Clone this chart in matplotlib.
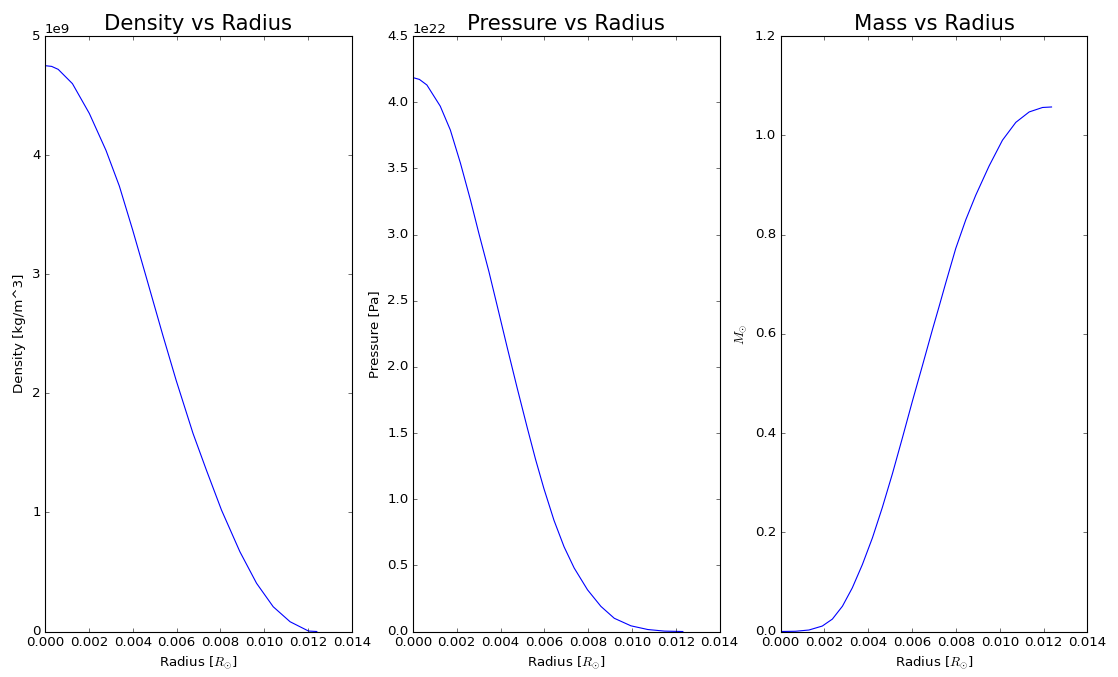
import numpy as np
import matplotlib
matplotlib.use("Agg")
import matplotlib.pyplot as plt

plt.style.use('classic')

# values (radius in solar radii)
r_dens = [0.0, 0.0003, 0.0006, 0.00125, 0.00202, 0.00278, 0.00339, 0.0040,
          0.00461, 0.00537, 0.00598, 0.00675, 0.00736, 0.00805, 0.00889,
          0.00965, 0.01041, 0.01118, 0.01202, 0.0124]
density = [4.751, 4.745, 4.72, 4.60, 4.35, 4.04, 3.74, 3.37,
           2.98, 2.49, 2.11, 1.664, 1.356, 1.02, 0.67,
           0.405, 0.208, 0.082, 0.004, 0.0]  # x 1e9 kg/m^3

r_pres = [0.0, 0.0003, 0.00064, 0.00125, 0.00171, 0.00217, 0.00263, 0.00301,
          0.00347, 0.00385, 0.0043, 0.00476, 0.00522, 0.0056, 0.00598,
          0.00644, 0.0069, 0.00736, 0.00797, 0.00858, 0.00919, 0.00995,
          0.01072, 0.01148, 0.01232]
pressure = [4.186, 4.172, 4.13, 3.97, 3.79, 3.54, 3.26, 3.01,
            2.72, 2.46, 2.15, 1.84, 1.54, 1.30, 1.08,
            0.84, 0.64, 0.48, 0.315, 0.19, 0.10, 0.043,
            0.015, 0.003, 0.0]  # x 1e22 Pa

r_mass = [0.0, 0.00068, 0.00129, 0.0019, 0.00236, 0.00282, 0.00327, 0.00373,
          0.00419, 0.00464, 0.0051, 0.00556, 0.00601, 0.00647, 0.00693,
          0.00723, 0.00753, 0.00799, 0.00845, 0.0089, 0.00951, 0.01012,
          0.01073, 0.01134, 0.01195, 0.01236]
mass = [0.0, 0.0005, 0.003, 0.011, 0.025, 0.051, 0.088, 0.135,
        0.189, 0.250, 0.318, 0.391, 0.464, 0.536, 0.609,
        0.655, 0.702, 0.772, 0.830, 0.879, 0.938, 0.990,
        1.026, 1.047, 1.056, 1.057]  # solar masses

fig, axes = plt.subplots(1, 3, figsize=(1118/80, 677/80), dpi=80)
fig.subplots_adjust(left=0.0403, right=0.9727, top=0.9468, bottom=0.0672, wspace=0.1987)

ax = axes[0]
ax.plot(r_dens, np.array(density) * 1e9, 'b-')
ax.set_xlim(0, 0.014)
ax.set_ylim(0, 5e9)
ax.set_title('Density vs Radius', fontsize=19)
ax.set_xlabel(r'Radius [$R_{\odot}$]')
ax.set_ylabel('Density [kg/m^3]')

ax = axes[1]
ax.plot(r_pres, np.array(pressure) * 1e22, 'b-')
ax.set_xlim(0, 0.014)
ax.set_ylim(0, 4.5e22)
ax.set_title('Pressure vs Radius', fontsize=19)
ax.set_xlabel(r'Radius [$R_{\odot}$]')
ax.set_ylabel('Pressure [Pa]')

ax = axes[2]
ax.plot(r_mass, mass, 'b-')
ax.set_xlim(0, 0.014)
ax.set_ylim(0, 1.2)
ax.set_title('Mass vs Radius', fontsize=19)
ax.set_xlabel(r'Radius [$R_{\odot}$]')
ax.set_ylabel(r'$M_{\odot}$')

fig.savefig('out.png', dpi=80)
